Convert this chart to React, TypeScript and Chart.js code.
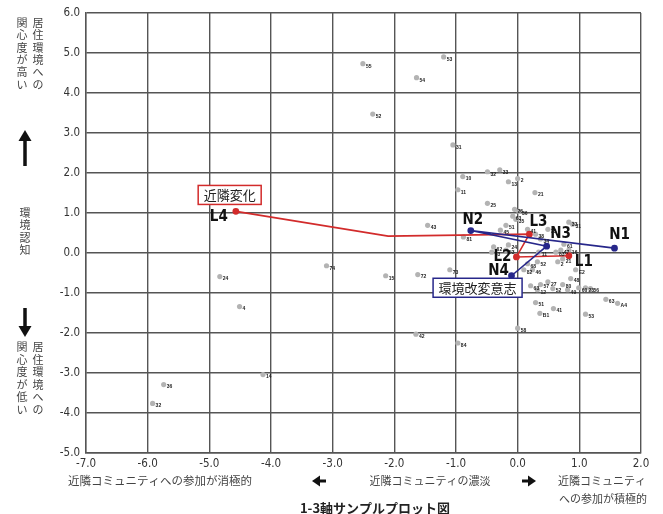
import React, { useEffect, useRef } from "react";
import { Chart, registerables } from "chart.js";
Chart.register(...registerables);

const X_TICKS = [-7, -6, -5, -4, -3, -2, -1, 0, 1, 2];
const Y_TICKS = [-5, -4, -3, -2, -1, 0, 1, 2, 3, 4, 5, 6];

const PT_LABELS = ["55","54","53","52","31","32","33","2","13","10","11","21","25","26","36","63","35","43","81","51","45","41","38","35","33","31","34","62","53","24","63","11","83","47","16","61","21","2","52","68","82","46","E2","73","72","15","74","24","4","14","36","32","42","84","58","27","57","63","12","52","49","80","48","60","23","56","63","A4","51","41","B1","53"];
const PT_X = [-2.51,-1.64,-1.20,-2.35,-1.05,-0.49,-0.29,0.00,-0.15,-0.89,-0.97,0.28,-0.49,-0.05,0.02,-0.08,-0.03,-1.46,-0.88,-0.19,-0.28,0.16,0.29,0.49,0.83,0.89,0.37,-0.39,-0.19,-0.15,-0.42,0.34,0.62,0.70,0.83,0.75,0.73,0.65,0.32,0.16,0.10,0.24,0.94,-1.10,-1.62,-2.14,-3.10,-4.83,-4.51,-4.13,-5.74,-5.92,-1.65,-0.97,0.00,0.49,0.37,0.21,0.32,0.57,0.81,0.73,0.86,0.99,1.10,1.18,1.43,1.62,0.29,0.58,0.36,1.10];
const PT_Y = [4.73,4.38,4.90,3.47,2.70,2.03,2.08,1.86,1.78,1.91,1.58,1.51,1.24,1.09,1.04,0.92,0.84,0.69,0.40,0.69,0.57,0.59,0.47,0.59,0.77,0.72,0.35,0.15,0.07,0.20,0.02,0.02,0.02,0.07,0.07,0.22,-0.15,-0.22,-0.22,-0.27,-0.42,-0.42,-0.42,-0.42,-0.54,-0.57,-0.32,-0.59,-1.34,-3.04,-3.29,-3.76,-2.03,-2.25,-1.88,-0.72,-0.79,-0.82,-0.92,-0.89,-0.92,-0.79,-0.64,-0.87,-0.87,-0.89,-1.16,-1.26,-1.24,-1.39,-1.51,-1.53];

const L_NAMES = ["L1", "L2", "L3", "", "L4"];
const L_X = [0.83, -0.02, 0.19, -2.1, -4.57];
const L_Y = [-0.07, -0.1, 0.47, 0.42, 1.04];
const N_NAMES = ["N1", "N2", "N3", "N4"];
const N_X = [1.57, -0.76, 0.47, -0.1];
const N_Y = [0.12, 0.56, 0.17, -0.57];

const L_TITLE = "近隣変化";
const N_TITLE = "環境改変意志";
const L_TITLE_POS = [-4.67, 1.45];
const N_TITLE_POS = [-0.65, -0.87];

const RED = "#d22b2b";
const BLUE = "#27278a";
const NARROW = '"Liberation Sans Narrow", "DejaVu Sans Condensed", "Liberation Sans", sans-serif';
const JP = '"Noto Sans CJK JP", sans-serif';

const LABEL_OFFSETS: Record<string, [number, number]> = {
  L1: [15, 6], L2: [-14, 0], L3: [9, -12], L4: [-17, 6],
  N1: [5, -13], N2: [2, -10], N3: [14, -12], N4: [-13, -5],
};

function vText(ctx: CanvasRenderingContext2D, s: string, x: number, y0: number, step: number) {
  const chars = Array.from(s);
  chars.forEach((c, i) => ctx.fillText(c, x, y0 + i * step));
}

function arrowV(ctx: CanvasRenderingContext2D, x: number, tip: number, tail: number) {
  const dir = tail > tip ? 1 : -1;
  const headLen = 11;
  ctx.beginPath();
  ctx.lineWidth = 3.5;
  ctx.moveTo(x, tail);
  ctx.lineTo(x, tip + dir * headLen * 0.8);
  ctx.stroke();
  ctx.beginPath();
  ctx.moveTo(x, tip);
  ctx.lineTo(x - 6.5, tip + dir * headLen);
  ctx.lineTo(x + 6.5, tip + dir * headLen);
  ctx.closePath();
  ctx.fill();
}

function arrowH(ctx: CanvasRenderingContext2D, tip: number, tail: number, y: number) {
  const dir = tail > tip ? 1 : -1;
  const headLen = 8;
  ctx.beginPath();
  ctx.lineWidth = 3;
  ctx.moveTo(tail, y);
  ctx.lineTo(tip + dir * headLen * 0.8, y);
  ctx.stroke();
  ctx.beginPath();
  ctx.moveTo(tip, y);
  ctx.lineTo(tip + dir * headLen, y - 5.5);
  ctx.lineTo(tip + dir * headLen, y + 5.5);
  ctx.closePath();
  ctx.fill();
}

const extras = {
  id: "extras",
  afterDatasetsDraw(chart: any) {
    const ctx: CanvasRenderingContext2D = chart.ctx;
    const xs = chart.scales.x;
    const ys = chart.scales.y;
    ctx.save();
    ctx.fillStyle = "#222";
    ctx.font = "bold 5px sans-serif";
    ctx.textAlign = "left";
    ctx.textBaseline = "middle";
    PT_LABELS.forEach((lab, i) => {
      ctx.fillText(lab, xs.getPixelForValue(PT_X[i]) + 3, ys.getPixelForValue(PT_Y[i]) + 2.5);
    });
    ctx.font = "bold 15px " + NARROW;
    ctx.fillStyle = "#111";
    ctx.textAlign = "center";
    const drawNames = (names: string[], X: number[], Y: number[]) => {
      names.forEach((n, i) => {
        if (!n) return;
        const o = LABEL_OFFSETS[n];
        ctx.fillText(n, xs.getPixelForValue(X[i]) + o[0], ys.getPixelForValue(Y[i]) + o[1]);
      });
    };
    drawNames(L_NAMES, L_X, L_Y);
    drawNames(N_NAMES, N_X, N_Y);
    const box = (text: string, pos: number[], color: string) => {
      ctx.font = "13px " + JP;
      const w = ctx.measureText(text).width + 11;
      const h = 19;
      const cx = xs.getPixelForValue(pos[0]);
      const cy = ys.getPixelForValue(pos[1]);
      ctx.fillStyle = "#fff";
      ctx.fillRect(cx - w / 2, cy - h / 2, w, h);
      ctx.strokeStyle = color;
      ctx.lineWidth = 1.5;
      ctx.strokeRect(cx - w / 2, cy - h / 2, w, h);
      ctx.fillStyle = "#222";
      ctx.textAlign = "center";
      ctx.textBaseline = "middle";
      ctx.fillText(text, cx, cy + 0.5);
    };
    box(L_TITLE, L_TITLE_POS, RED);
    box(N_TITLE, N_TITLE_POS, BLUE);
    ctx.restore();
  },
  afterDraw(chart: any) {
    const ctx: CanvasRenderingContext2D = chart.ctx;
    ctx.save();
    ctx.fillStyle = "#444";
    ctx.strokeStyle = "#111";
    ctx.font = "11px " + JP;
    ctx.textAlign = "center";
    ctx.textBaseline = "middle";
    vText(ctx, "居住環境への", 38, 23, 12.3);
    vText(ctx, "関心度が高い", 22, 23, 12.3);
    vText(ctx, "環境認知", 25, 213, 12.3);
    vText(ctx, "居住環境への", 38, 347, 12.5);
    vText(ctx, "関心度が低い", 22, 347, 12.5);
    ctx.fillStyle = "#111";
    arrowV(ctx, 25, 130, 166);
    arrowV(ctx, 25, 337, 308);
    ctx.fillStyle = "#444";
    ctx.font = "11.5px " + JP;
    ctx.fillText("近隣コミュニティへの参加が消極的", 160, 481);
    ctx.font = "11px " + JP;
    ctx.fillText("近隣コミュニティの濃淡", 430, 481);
    ctx.fillText("近隣コミュニティ", 602, 481);
    ctx.fillText("への参加が積極的", 603, 499);
    ctx.fillStyle = "#111";
    arrowH(ctx, 312, 326, 481);
    arrowH(ctx, 536, 522, 481);
    ctx.fillStyle = "#222";
    ctx.font = "bold 13px " + JP;
    ctx.fillText("1-3軸サンプルプロット図", 375, 508);
    ctx.restore();
  },
};

export default function App() {
  const ref = useRef<HTMLCanvasElement>(null);
  useEffect(() => {
    const ctx = ref.current!.getContext("2d")!;
    const chart = new Chart(ctx, {
      type: "scatter",
      data: {
        datasets: [
          {
            label: "samples",
            data: PT_X.map((x, i) => ({ x, y: PT_Y[i] })),
            backgroundColor: "#b3b3b3",
            borderWidth: 0,
            pointRadius: 2.6,
            order: 3,
          },
          {
            label: L_TITLE,
            type: "line",
            data: L_X.map((x, i) => ({ x, y: L_Y[i] })),
            borderColor: RED,
            backgroundColor: RED,
            borderWidth: 1.6,
            pointRadius: L_NAMES.map((n) => (n ? 2.6 : 0)),
            showLine: true,
            fill: false,
            tension: 0,
            order: 2,
          } as any,
          {
            label: N_TITLE,
            type: "line",
            data: N_X.map((x, i) => ({ x, y: N_Y[i] })),
            borderColor: BLUE,
            backgroundColor: BLUE,
            borderWidth: 1.6,
            pointRadius: 2.6,
            showLine: true,
            fill: false,
            tension: 0,
            order: 1,
          } as any,
        ],
      },
      options: {
        animation: false,
        responsive: true,
        maintainAspectRatio: false,
        layout: { padding: { left: 0, right: 22, top: 8, bottom: 0 } },
        plugins: { legend: { display: false }, tooltip: { enabled: false } },
        scales: {
          x: {
            type: "linear",
            min: -7,
            max: 2,
            afterBuildTicks: (s: any) => { s.ticks = X_TICKS.map((v) => ({ value: v })); },
            afterFit: (s: any) => { s.height = 61; },
            ticks: {
              callback: (v: any) => Number(v).toFixed(1),
              color: "#333",
              font: { family: NARROW, size: 11.5 },
              padding: 4,
              maxRotation: 0,
            },
            grid: { color: "#555", lineWidth: 1.4, drawTicks: false },
            border: { display: true, color: "#555", width: 1.4 },
          },
          y: {
            type: "linear",
            min: -5,
            max: 6,
            afterBuildTicks: (s: any) => { s.ticks = Y_TICKS.map((v) => ({ value: v })); },
            afterFit: (s: any) => { s.width = 86; },
            ticks: {
              callback: (v: any) => Number(v).toFixed(1),
              color: "#333",
              font: { family: NARROW, size: 11.5 },
              padding: 6,
            },
            grid: { color: "#555", lineWidth: 1.4, drawTicks: false },
            border: { display: true, color: "#555", width: 1.4 },
          },
        },
      },
      plugins: [extras],
    });
    return () => chart.destroy();
  }, []);
  return (
    <div style={{ position: "fixed", left: 0, top: 0, width: 663, height: 514, background: "#fff" }}>
      <canvas ref={ref} />
    </div>
  );
}
